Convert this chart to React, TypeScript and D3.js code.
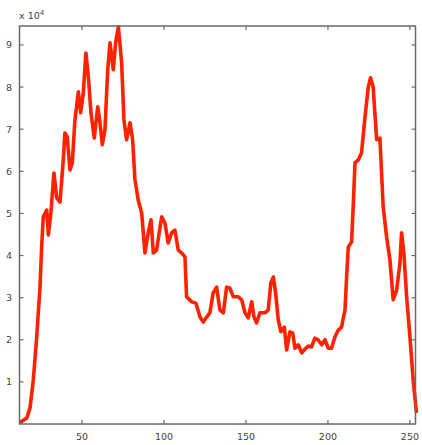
import React from "react";
import * as d3 from "d3";

const xValues = [12, 14, 16.3, 18.3, 20.3, 22.4, 24.4, 25.4, 26.4, 28.5, 29.5, 31.1, 32.9, 34.6, 36.6, 38.6, 39.6, 41, 42.7, 44.1, 45.7, 47.8, 49.2, 50.8, 52.4, 53.9, 55.5, 57.5, 59.6, 61, 62.4, 64, 65.7, 67.1, 69.1, 70.5, 72.2, 74.2, 75.6, 77.2, 79.3, 80.9, 82.3, 84.3, 86.4, 88.4, 90.4, 92.1, 93.5, 95.5, 98.6, 100.6, 102.6, 104.7, 106.7, 108.7, 110.8, 112.8, 113.8, 116.9, 119.5, 122, 124, 126, 128, 130, 132.1, 134.1, 136.2, 138.2, 140.2, 142.3, 145.3, 147.4, 149.4, 151.4, 153.5, 154.9, 156.5, 158.5, 161.6, 163.6, 165.2, 166.7, 168.1, 169.7, 171.3, 173.4, 174.8, 176.8, 178.5, 179.9, 181.9, 184, 186, 188, 190, 192, 194, 196.2, 198.2, 200.2, 202.2, 204.3, 206.3, 208.3, 210.4, 211.4, 212.4, 214.4, 215.4, 216.5, 218.5, 220.5, 222.6, 224.6, 226, 227.6, 229.7, 231.7, 233.7, 235.8, 237.8, 239.8, 241.9, 243.9, 244.9, 246.3, 248, 250, 252, 254];
const yValues = [0.03, 0.08, 0.14, 0.38, 1.04, 2.07, 3.25, 4.2, 4.92, 5.08, 4.49, 5.04, 5.96, 5.37, 5.27, 6.27, 6.91, 6.82, 6.03, 6.2, 7.22, 7.89, 7.39, 7.86, 8.81, 8.24, 7.39, 6.79, 7.53, 7.15, 6.63, 6.98, 8.41, 9.05, 8.41, 9.05, 9.43, 8.57, 7.22, 6.75, 7.15, 6.75, 5.8, 5.32, 5.01, 4.06, 4.54, 4.85, 4.06, 4.13, 4.92, 4.77, 4.3, 4.54, 4.6, 4.13, 4.06, 3.97, 3.02, 2.9, 2.87, 2.54, 2.42, 2.54, 2.64, 3.11, 3.25, 2.71, 2.64, 3.25, 3.23, 3.02, 3.02, 2.95, 2.64, 2.52, 2.9, 2.54, 2.4, 2.64, 2.64, 2.71, 3.35, 3.49, 3.11, 2.47, 2.19, 2.3, 1.76, 2.19, 2.16, 1.8, 1.88, 1.69, 1.78, 1.85, 1.83, 2.04, 2.0, 1.88, 2.0, 1.8, 1.8, 2.07, 2.23, 2.3, 2.71, 3.49, 4.2, 4.32, 5.15, 6.2, 6.27, 6.44, 7.29, 8.0, 8.22, 8.0, 6.75, 6.79, 5.15, 4.44, 3.9, 2.95, 3.18, 3.82, 4.54, 4.06, 3.02, 2.07, 1.04, 0.26];
const xTicks = [50, 100, 150, 200, 250];
const yTicks = [1, 2, 3, 4, 5, 6, 7, 8, 9];

export default function App() {
  const W = 422, H = 445;
  const left = 19.5, right = 415.5, top = 26, bottom = 424;
  const x = d3.scaleLinear().domain([11.9, 253.4]).range([left, right]);
  const y = d3.scaleLinear().domain([0, 9.45]).range([bottom, top]);
  const pts: [number, number][] = xValues.map((v, i) => [v, yValues[i]]);
  const line = d3.line<[number, number]>().x(d => x(d[0])).y(d => y(d[1]));
  const axisColor = "#6a6a6a";
  const tl = 4;
  return (
    <svg width={W} height={H} style={{ position: "absolute", left: 0, top: 0 }}>
      <rect x={0} y={0} width={W} height={H} fill="#fff" />
      <path d={line(pts) || ""} fill="none" stroke="#ff2200" strokeWidth={3.6} strokeLinejoin="round" />
      <rect x={left} y={top} width={right - left} height={bottom - top} fill="none" stroke={axisColor} strokeWidth={1.5} />
      {xTicks.map(t => (
        <g key={"x" + t}>
          <line x1={x(t)} x2={x(t)} y1={bottom} y2={bottom - tl} stroke={axisColor} strokeWidth={1.2} />
          <line x1={x(t)} x2={x(t)} y1={top} y2={top + tl} stroke={axisColor} strokeWidth={1.2} />
          <text x={x(t)} y={440} textAnchor="middle" fontSize={9.5} fontFamily="DejaVu Sans, sans-serif" fill="#444">{t}</text>
        </g>
      ))}
      {yTicks.map(t => (
        <g key={"y" + t}>
          <line x1={left} x2={left + tl} y1={y(t)} y2={y(t)} stroke={axisColor} strokeWidth={1.2} />
          <line x1={right} x2={right - tl} y1={y(t)} y2={y(t)} stroke={axisColor} strokeWidth={1.2} />
          <text x={9} y={y(t) + 3.5} textAnchor="middle" fontSize={9.5} fontFamily="DejaVu Sans, sans-serif" fill="#444">{t}</text>
        </g>
      ))}
      <text x={19} y={19} fontSize={9.5} fontFamily="DejaVu Sans, sans-serif" fill="#444">
        x 10<tspan dy={-4} fontSize={7}>4</tspan>
      </text>
    </svg>
  );
}
